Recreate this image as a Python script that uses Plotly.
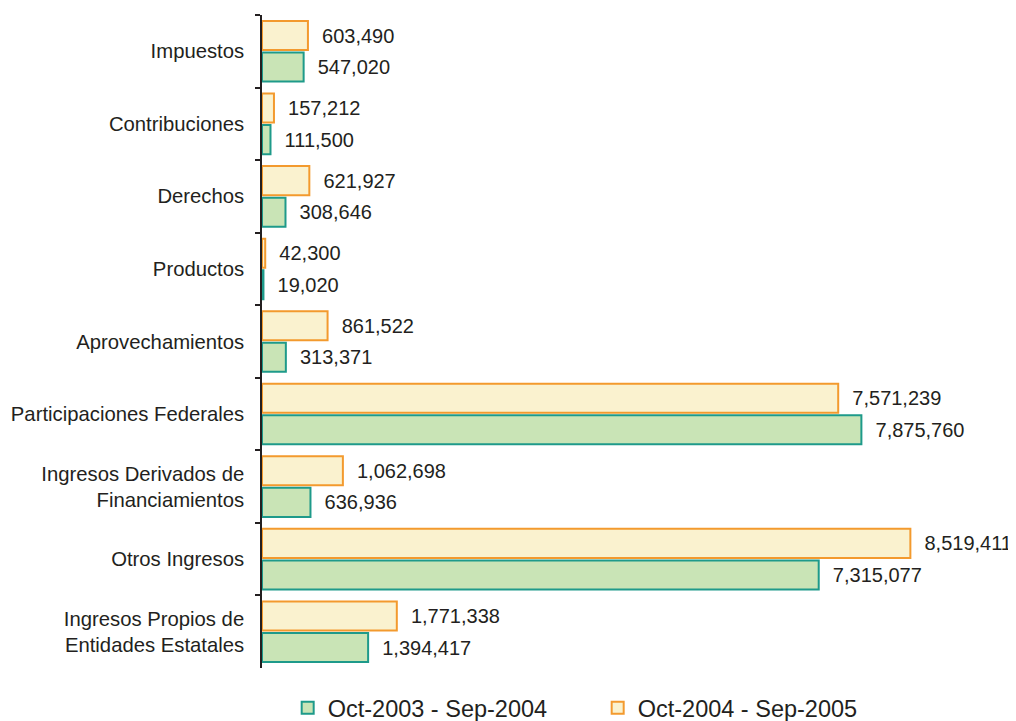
import plotly.graph_objects as go

categories = ["Impuestos", "Contribuciones", "Derechos", "Productos", "Aprovechamientos",
              "Participaciones Federales", "Ingresos Derivados de<br>Financiamientos",
              "Otros Ingresos", "Ingresos Propios de<br>Entidades Estatales"]
series_2003 = [547020, 111500, 308646, 19020, 313371, 7875760, 636936, 7315077, 1394417]
series_2004 = [603490, 157212, 621927, 42300, 861522, 7571239, 1062698, 8519411, 1771338]
name_2003 = "Oct-2003 - Sep-2004"
name_2004 = "Oct-2004 - Sep-2005"

TXT = "#231F20"
FONT = "Liberation Sans, Arial, sans-serif"

def labels(vals):
    return ["\u00a0\u00a0" + f"{v:,}" for v in vals]

fig = go.Figure()
fig.add_trace(go.Bar(
    y=categories, x=series_2004, orientation="h", name=name_2004,
    marker=dict(color="#FAF2CF", line=dict(color="#F39A2E", width=2)),
    text=labels(series_2004), textposition="outside", constraintext="none",
    textfont=dict(size=20, color=TXT, family=FONT), cliponaxis=False, legendrank=2,
))
fig.add_trace(go.Bar(
    y=categories, x=series_2003, orientation="h", name=name_2003,
    marker=dict(color="#C9E4B6", line=dict(color="#1E9A8A", width=2)),
    text=labels(series_2003), textposition="outside", constraintext="none",
    textfont=dict(size=20, color=TXT, family=FONT), cliponaxis=False, legendrank=1,
))

fig.update_layout(
    width=1008, height=713,
    margin=dict(l=254, r=31, t=7, b=53, autoexpand=False),
    paper_bgcolor="white", plot_bgcolor="white",
    barmode="group", bargap=0.13, bargroupgap=0.08,
    font=dict(family=FONT, size=20, color=TXT),
    showlegend=True,
    legend=dict(orientation="h", xref="container", x=0.585, xanchor="center",
                y=-0.0613, yanchor="middle", font=dict(size=23.5, color=TXT),
                entrywidth=265, entrywidthmode="pixels"),
    xaxis=dict(range=[0, 9.5e6], autorange=False, type="linear", showticklabels=False,
               ticks="", showline=False, showgrid=False, zeroline=False),
    yaxis=dict(autorange="reversed", showline=True, linecolor=TXT, linewidth=1.5,
               ticks="outside", ticklen=5, tickcolor=TXT, tickwidth=1.5, automargin=False,
               tickson="boundaries", showgrid=False, ticklabelstandoff=12,
               tickfont=dict(size=20.3, color=TXT, family=FONT)),
)

fig.write_html("out.html")
